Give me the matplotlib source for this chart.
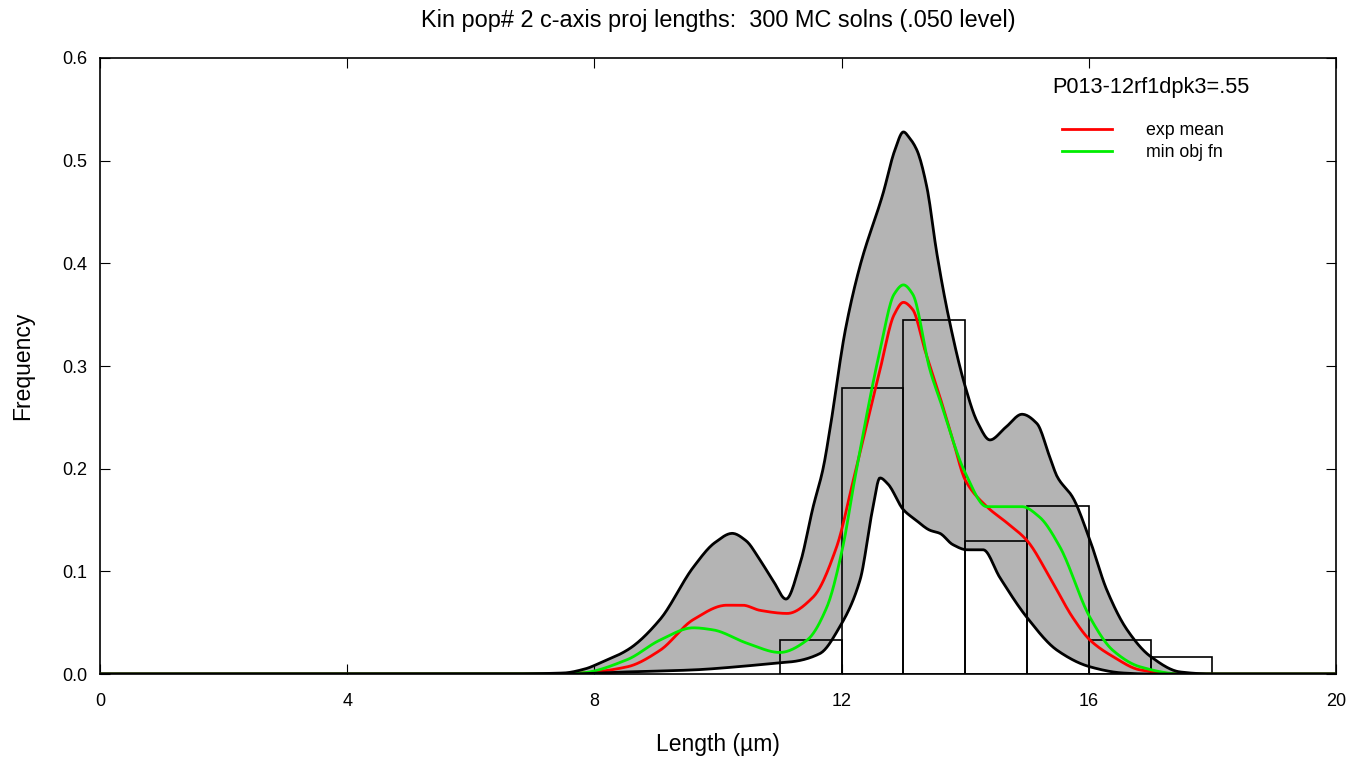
import numpy as np
import matplotlib
matplotlib.use("Agg")
import matplotlib.pyplot as plt

plt.rcParams['font.family'] = ['Liberation Sans', 'DejaVu Sans']

# histogram of measured lengths (bin left edges, frequency)
bin_left = [11, 12, 13, 14, 15, 16, 17]
bin_freq = [0.033, 0.279, 0.345, 0.130, 0.164, 0.033, 0.017]

# upper envelope of the 300 MC solutions
up_x = [0, 6.5, 7.5, 7.85, 8.1, 8.55, 9.06, 9.6, 9.95, 10.23, 10.45, 10.68, 10.9, 11.1,
        11.33, 11.54, 11.7, 11.81, 12.06, 12.3, 12.67, 12.86, 13.0, 13.1, 13.22, 13.38,
        13.54, 13.72, 14.0, 14.2, 14.4, 14.65, 14.92, 15.16, 15.37, 15.49, 15.74, 16.02,
        16.29, 16.62, 17.0, 17.48, 18.0, 20]
up_y = [0, 0, 0.001, 0.005, 0.011, 0.024, 0.053, 0.104, 0.128, 0.137, 0.130, 0.111, 0.090, 0.073,
        0.108, 0.163, 0.200, 0.238, 0.335, 0.398, 0.468, 0.510, 0.528, 0.522, 0.510, 0.474,
        0.410, 0.351, 0.280, 0.245, 0.228, 0.240, 0.253, 0.244, 0.211, 0.192, 0.172, 0.130,
        0.082, 0.043, 0.017, 0.002, 0, 0]

# lower envelope
lo_x = [0, 7.5, 8.5, 9.6, 10.3, 11.0, 11.2, 11.65, 11.97, 12.3, 12.5, 12.62, 12.75, 13.0,
        13.2, 13.43, 13.59, 13.8, 14.03, 14.29, 14.56, 15.0, 15.49, 16.02, 16.55, 17.0, 20]
lo_y = [0, 0, 0.002, 0.004, 0.007, 0.011, 0.012, 0.020, 0.046, 0.092, 0.160, 0.191, 0.185, 0.160,
        0.150, 0.140, 0.137, 0.126, 0.121, 0.121, 0.094, 0.055, 0.023, 0.007, 0.001, 0, 0]

# expected mean
mean_x = [0, 7.0, 7.77, 8.53, 9.06, 9.6, 10.14, 10.4, 10.68, 11.12, 11.54, 11.92, 12.19,
          12.62, 12.85, 13.0, 13.15, 13.35, 13.59, 13.8, 14.0, 14.35, 14.68, 15.0, 15.37,
          15.74, 16.02, 16.39, 16.83, 17.5, 20]
mean_y = [0, 0, 0.001, 0.007, 0.023, 0.053, 0.067, 0.067, 0.062, 0.059, 0.075, 0.124, 0.189,
          0.296, 0.350, 0.362, 0.355, 0.315, 0.270, 0.228, 0.189, 0.163, 0.147, 0.130, 0.094,
          0.055, 0.033, 0.017, 0.004, 0, 0]

# minimum objective function solution
mof_x = [0, 7.0, 7.77, 8.53, 9.06, 9.6, 9.92, 10.47, 11.0, 11.44, 11.76, 12.02, 12.21,
         12.62, 12.85, 13.0, 13.15, 13.43, 13.59, 14.0, 14.35, 14.6, 14.92, 15.2, 15.53,
         16.02, 16.39, 16.83, 17.5, 20]
mof_y = [0, 0, 0.001, 0.014, 0.033, 0.045, 0.043, 0.030, 0.021, 0.033, 0.065, 0.124, 0.189,
         0.315, 0.370, 0.379, 0.370, 0.296, 0.267, 0.196, 0.163, 0.163, 0.163, 0.153, 0.124,
         0.055, 0.023, 0.007, 0, 0]


def smooth(x, y, n=1200):
    # monotone cubic (pchip) through the read points, only for drawing
    x = np.asarray(x, float)
    y = np.asarray(y, float)
    h = np.diff(x)
    d = np.diff(y) / h
    m = np.zeros_like(y)
    for k in range(1, len(x) - 1):
        if d[k - 1] * d[k] > 0:
            w1 = 2 * h[k] + h[k - 1]
            w2 = h[k] + 2 * h[k - 1]
            m[k] = (w1 + w2) / (w1 / d[k - 1] + w2 / d[k])
    xs = np.linspace(x[0], x[-1], n)
    i = np.clip(np.searchsorted(x, xs) - 1, 0, len(h) - 1)
    t = (xs - x[i]) / h[i]
    h00 = 2 * t**3 - 3 * t**2 + 1
    h10 = t**3 - 2 * t**2 + t
    h01 = -2 * t**3 + 3 * t**2
    h11 = t**3 - t**2
    ys = h00 * y[i] + h10 * h[i] * m[i] + h01 * y[i + 1] + h11 * h[i] * m[i + 1]
    return xs, ys


fig = plt.figure(figsize=(13.64, 7.61), dpi=100)
ax = fig.add_axes([0.0733, 0.1143, 0.9062, 0.8095])

ux, uy = smooth(up_x, up_y)
lx, ly = smooth(lo_x, lo_y)

# band of MC solutions
ax.fill(np.concatenate([ux, lx[::-1]]), np.concatenate([uy, ly[::-1]]),
        color='#b4b4b4', lw=0, zorder=1)

ax.bar(bin_left, bin_freq, width=1.0, align='edge', fill=False, edgecolor='black',
       linewidth=1.2, zorder=3)

mx, my = smooth(mean_x, mean_y)
ox, oy = smooth(mof_x, mof_y)
l1, = ax.plot(mx, my, color='#ff0000', lw=2, zorder=5, label='exp mean')
l2, = ax.plot(ox, oy, color='#00ee00', lw=2, zorder=5, label='min obj fn')
ax.plot(ux, uy, color='black', lw=2, zorder=6)
ax.plot(lx, ly, color='black', lw=2, zorder=6)

ax.set_xlim(0, 20)
ax.set_ylim(0, 0.6)
ax.set_xticks([0, 4, 8, 12, 16, 20])
ax.set_yticks(np.arange(0, 0.61, 0.1))
ax.set_yticklabels(['0.0', '0.1', '0.2', '0.3', '0.4', '0.5', '0.6'])
ax.tick_params(direction='in', length=7, top=True, right=True, labelsize=13)
ax.tick_params(axis='x', pad=14)
ax.tick_params(axis='y', pad=9)
for s in ax.spines.values():
    s.set_linewidth(1.2)

ax.set_xlabel('Length (µm)', fontsize=16.5, labelpad=16)
ax.set_ylabel('Frequency', fontsize=16.5, labelpad=20)
ax.set_title('Kin pop# 2 c-axis proj lengths:  300 MC solns (.050 level)', fontsize=16.9, pad=22)

fig.text(1151 / 1364, 1 - 88 / 761, 'P013-12rf1dpk3=.55', fontsize=15.7,
         ha='center', va='center')
ax.legend(handles=[l1, l2], loc='upper left', bbox_to_anchor=(1062 / 1364, 1 - 122 / 761),
          bbox_transform=fig.transFigure, frameon=False, fontsize=12.8, borderpad=0,
          handlelength=2.8, handletextpad=1.9, labelspacing=0.3, borderaxespad=0)

fig.savefig('out.png', dpi=100)
